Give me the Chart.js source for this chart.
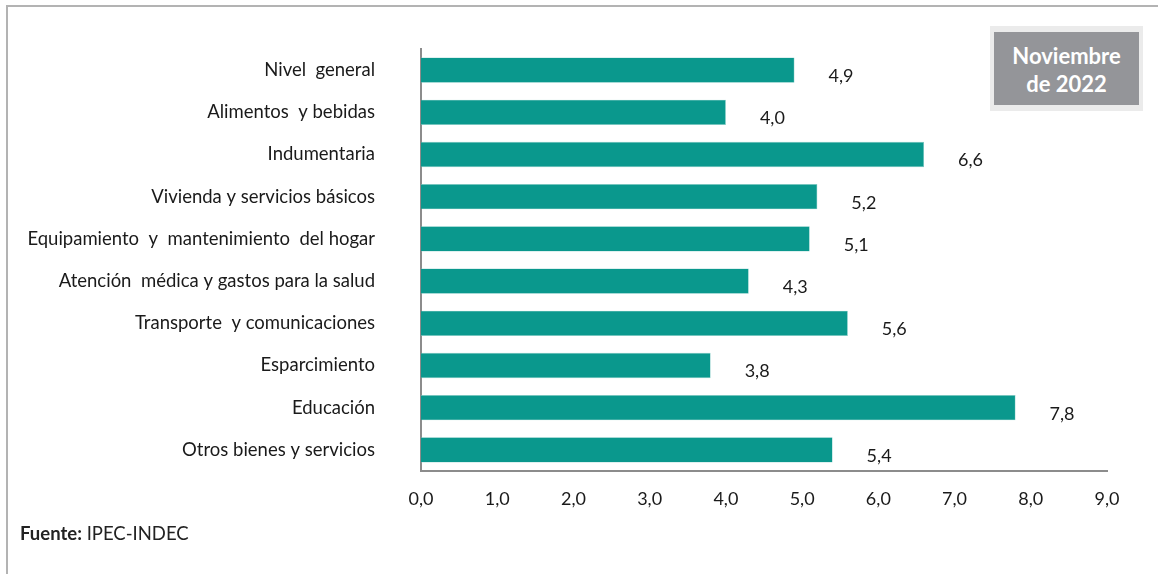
<!DOCTYPE html>
<html>
<head>
<meta charset="utf-8">
<script src="https://cdn.jsdelivr.net/npm/chart.js@4"></script>
<style>
    html, body { margin: 0; padding: 0; width: 1158px; height: 574px; overflow: hidden; background: #fff; font-family: Lato, sans-serif; }
    #frame { position: absolute; left: 6px; top: 5px; width: 1200px; height: 620px; border: 2px solid #b3b3b3; box-sizing: border-box; }
    #wrap { position: absolute; left: 0; top: 0; width: 1158px; height: 574px; }
    #badge { position: absolute; left: 990px; top: 26px; width: 153px; height: 85px; background: #ebebeb; }
    #badge div { position: absolute; left: 4px; top: 6px; width: 145px; height: 73px; background: #949599; color: #fff; font-weight: bold; font-size: 22px; line-height: 28px; text-align: center; padding-top: 10px; box-sizing: border-box; }
    #fuente { position: absolute; left: 20px; top: 522px; font-size: 18.5px; color: #222; }
</style>
</head>
<body>
<div id="frame"></div>
<div id="wrap"><canvas id="chartipc" width="1158" height="574"></canvas></div>
<div id="badge"><div>Noviembre<br>de 2022</div></div>
<div id="fuente"><b>Fuente:</b> IPEC-INDEC</div>
<script>

// Data Storage {

    const cats = [
        'Nivel  general',
        'Alimentos  y bebidas',
        'Indumentaria',
        'Vivienda y servicios básicos',
        'Equipamiento  y  mantenimiento  del hogar',
        'Atención  médica y gastos para la salud',
        'Transporte  y comunicaciones',
        'Esparcimiento',
        'Educación',
        'Otros bienes y servicios'
    ];

    const vals = [
        4.9, 4.0, 6.6, 5.2, 5.1, 4.3, 5.6, 3.8, 7.8, 5.4
    ];

    const xticks = [
        0, 1, 2, 3, 4, 5, 6, 7, 8, 9
    ];

// };

// Helpers {

    const coma = v => v.toFixed(1).replace('.', ',');

    // value labels to the right of each bar
    const etiquetas = {
        id: 'etiquetas',
        afterDatasetsDraw(chart) {
            const c = chart.ctx;
            const meta = chart.getDatasetMeta(0);
            c.save();
            c.font = '18px Lato, sans-serif';
            c.fillStyle = '#1a1a1a';
            c.textAlign = 'left';
            c.textBaseline = 'middle';
            meta.data.forEach((b, i) => {
                c.fillText(coma(vals[i]), b.x + 34, b.y + 6);
            });
            c.restore();
        }
    };

// };

// Chart Function {

    const cx = document.getElementById('chartipc').getContext('2d');

    const ipc = new Chart(cx, {
        type: 'bar',
        data: {
            labels: cats,
            datasets: [
                {
                    data: vals,
                    backgroundColor: '#0a988d',
                    borderColor: '#7cc8c1',
                    borderWidth: 0.6,
                    barPercentage: 0.6,
                    categoryPercentage: 1
                }
            ]
        },
        options: {
            indexAxis: 'y',
            responsive: false,
            animation: false,
            devicePixelRatio: 1,
            layout: { padding: { left: 0, top: 49, right: 51, bottom: 53 } },
            plugins: {
                legend: { display: false },
                tooltip: { enabled: false }
            },
            scales: {
                x: {
                    min: 0,
                    max: 9,
                    afterBuildTicks: s => { s.ticks = xticks.map(v => ({ value: v })); },
                    afterFit: s => { s.height = 50; },
                    grid: { display: false, drawTicks: false },
                    border: { color: '#8c8c8c', width: 2 },
                    ticks: {
                        padding: 17,
                        color: '#1a1a1a',
                        font: { family: 'Lato', size: 18 },
                        callback: v => coma(v),
                        maxRotation: 0
                    }
                },
                y: {
                    // tick padding also pads top/bottom, drop that
                    afterFit: s => { s.width = 421; s.paddingTop = 0; s.paddingBottom = 0; },
                    grid: { display: false, drawTicks: false },
                    border: { color: '#8c8c8c', width: 2 },
                    ticks: {
                        padding: 46,
                        color: '#1a1a1a',
                        font: { family: 'Lato', size: 18.5 }
                    }
                }
            }
        },
        plugins: [etiquetas]
    });

// };

</script>
</body>
</html>
